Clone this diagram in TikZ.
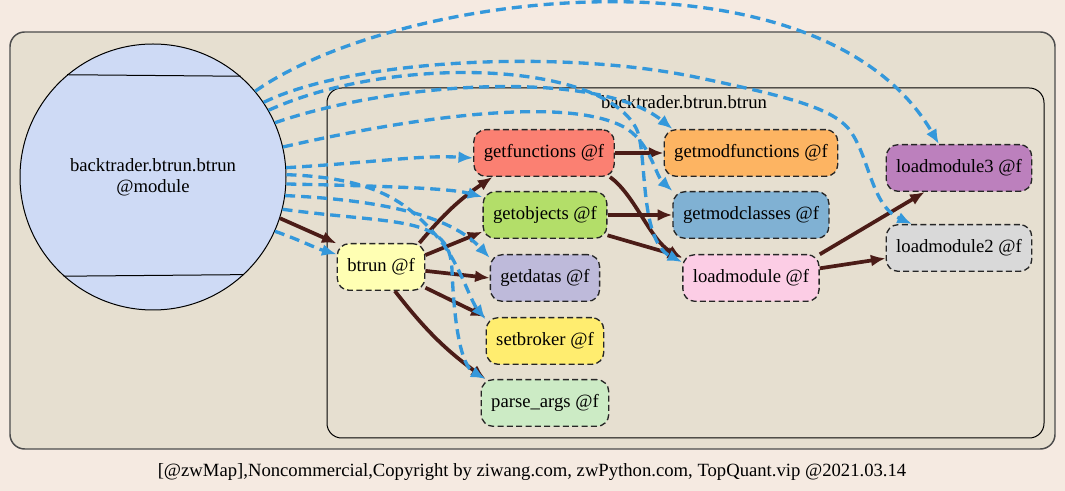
\documentclass[tikz,border=0pt]{standalone}
\usepackage{fontspec}
\setmainfont{Liberation Serif}
\usetikzlibrary{arrows.meta}
\definecolor{bgpage}{HTML}{F5EAE1}
\definecolor{clusfill}{HTML}{E6DFD0}
\definecolor{modfill}{HTML}{CEDAF5}
\definecolor{usec}{HTML}{3498DB}
\definecolor{callc}{HTML}{4B1C17}
\definecolor{btfill}{HTML}{FFFFB3}
\definecolor{gffill}{HTML}{FB8072}
\definecolor{gofill}{HTML}{B3DE69}
\definecolor{gdfill}{HTML}{BEBADA}
\definecolor{sbfill}{HTML}{FFED6F}
\definecolor{pafill}{HTML}{CCEBC5}
\definecolor{gmffill}{HTML}{FDB462}
\definecolor{gcfill}{HTML}{80B1D3}
\definecolor{lmfill}{HTML}{FCCDE5}
\definecolor{lmthreefill}{HTML}{BC80BD}
\definecolor{lmtwofill}{HTML}{D9D9D9}
\begin{document}
\begin{tikzpicture}[x=0.75pt,y=-0.75pt,font=\fontsize{14}{16}\selectfont,
fn/.style={draw=black!85,dash pattern=on 4.5pt off 2.5pt,line width=1pt,rounded corners=9pt,inner xsep=7.5pt,minimum height=35pt},
call/.style={-{Latex[length=11pt,width=9pt]},line width=2.8pt,draw=callc},
use/.style={-{Latex[length=11pt,width=9pt]},line width=2.5pt,draw=usec,dash pattern=on 7.5pt off 4.5pt}]
\useasboundingbox (0,0) rectangle (1065,491);
\fill[bgpage] (0,0) rectangle (1065,491);
\draw[fill=clusfill,draw=black!70,line width=1.1pt,rounded corners=11pt] (10,32) rectangle (1055,449);
\draw[fill=clusfill,line width=0.75pt,rounded corners=11pt] (327,88) rectangle (1044,438);
\node (clab) at (684,102) {backtrader.btrun.btrun};
\node (foot) at (532,472) {[@zwMap],Noncommercial,Copyright by ziwang.com, zwPython.com, TopQuant.vip @2021.03.14};
\node[circle,draw,fill=modfill,line width=0.75pt,minimum size=199.5pt,inner sep=0pt,align=center] (mod) at (153,177) {backtrader.btrun.btrun\\@module};
\draw[line width=0.75pt] (mod.49.5)--(mod.130.5);
\draw[line width=0.75pt] (mod.-47.5)--(mod.-132.5);
\node[fn,fill=btfill] (bt) at (381,267) {btrun @f};
\node[fn,fill=gffill] (gf) at (544,153) {getfunctions @f};
\node[fn,fill=gofill] (go) at (545,215) {getobjects @f};
\node[fn,fill=gdfill] (gd) at (545,278) {getdatas @f};
\node[fn,fill=sbfill] (sb) at (545,341) {setbroker @f};
\node[fn,fill=pafill] (pa) at (545,403) {parse\_args @f};
\node[fn,fill=gmffill] (gmf) at (751,153) {getmodfunctions @f};
\node[fn,fill=gcfill] (gc) at (751,215) {getmodclasses @f};
\node[fn,fill=lmfill] (lm) at (751,278) {loadmodule @f};
\node[fn,fill=lmthreefill] (lm3) at (959,168) {loadmodule3 @f};
\node[fn,fill=lmtwofill] (lm2) at (959,248) {loadmodule2 @f};
\draw[call] (mod.-18)--(bt.152);
\draw[call] (bt.32) to[bend left=8] (gf.205);
\draw[call] (bt.15)--(go.195);
\draw[call] (bt.-5)--(gd.west);
\draw[call] (bt.-25)--(sb.158);
\draw[call] (bt.-60) to[bend right=8] (pa.158);
\draw[call] (gf.east)--(gmf.west);
\draw[call] (gf.-20) .. controls (635,195) and (650,240) .. (lm.164);
\draw[call] (go.east)--(gc.west);
\draw[call] (go.-18)--(lm.163);
\draw[call] (lm.19)--(lm3.215);
\draw[call] (lm.8)--(lm2.188);
\draw[use] (mod.40) .. controls (400,-10) and (820,-60) .. (lm3.130);
\draw[use] (mod.34) .. controls (350,60) and (560,48) .. (700,78) .. controls (790,97) and (830,108) .. (848,128) .. controls (870,155) and (870,205) .. (lm2.153);
\draw[use] (mod.30) .. controls (390,55) and (600,60) .. (636,128) .. controls (648,150) and (638,240) .. (lm.167);
\draw[use] (mod.24) .. controls (400,80) and (600,70) .. (gmf.163);
\draw[use] (mod.13) .. controls (400,120) and (560,95) .. (622,126) .. controls (650,140) and (655,175) .. (gc.163);
\draw[use] (mod.4) .. controls (380,162) and (420,155) .. (gf.184);
\draw[use] (mod.1) .. controls (380,178) and (410,205) .. (440,240) .. controls (460,265) and (470,300) .. (sb.160);
\draw[use] (mod.-3) .. controls (380,186) and (450,188) .. (go.164);
\draw[use] (mod.-8) .. controls (380,200) and (450,215) .. (gd.160);
\draw[use] (mod.-14) .. controls (400,225) and (450,215) .. (452,270) .. controls (454,320) and (460,365) .. (pa.158);
\draw[use] (mod.-24) .. controls (300,240) and (315,248) .. (bt.164);
\end{tikzpicture}
\end{document}
